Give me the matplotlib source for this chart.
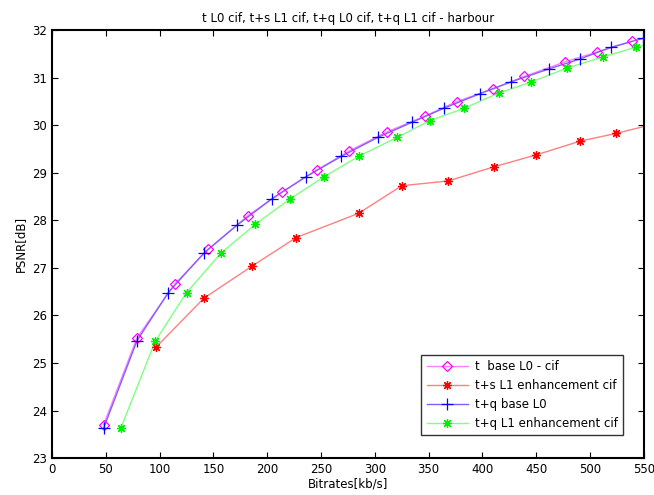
import matplotlib
matplotlib.use("Agg")
import matplotlib.pyplot as plt
from matplotlib.lines import Line2D

title = "t L0 cif, t+s L1 cif, t+q L0 cif, t+q L1 cif - harbour"
xlabel = "Bitrates[kb/s]"
ylabel = "PSNR[dB]"

labels = ["t  base L0 - cif", "t+s L1 enhancement cif", "t+q base L0", "t+q L1 enhancement cif"]

t_base_x = [48, 79, 114, 145, 182, 214, 246, 276, 311, 347, 376, 410, 439, 477, 506, 539]
t_base_y = [23.70, 25.53, 26.66, 27.39, 28.10, 28.60, 29.06, 29.46, 29.86, 30.20, 30.50, 30.77, 31.03, 31.34, 31.54, 31.77]

ts_l1_x = [97, 141, 186, 227, 285, 325, 368, 411, 450, 491, 524, 565]
ts_l1_y = [25.34, 26.36, 27.04, 27.64, 28.15, 28.73, 28.83, 29.13, 29.38, 29.67, 29.83, 30.06]

tq_base_x = [48, 79, 108, 141, 172, 204, 236, 269, 303, 335, 364, 398, 427, 462, 491, 519, 549]
tq_base_y = [23.63, 25.47, 26.48, 27.31, 27.90, 28.45, 28.92, 29.35, 29.75, 30.07, 30.36, 30.67, 30.92, 31.19, 31.40, 31.64, 31.83]

tq_l1_x = [64, 96, 125, 157, 189, 221, 253, 285, 321, 351, 383, 415, 445, 479, 512, 543, 575]
tq_l1_y = [23.63, 25.46, 26.48, 27.31, 27.92, 28.45, 28.92, 29.35, 29.75, 30.10, 30.36, 30.68, 30.91, 31.21, 31.44, 31.65, 31.82]

xticks = list(range(0, 551, 50))
yticks = list(range(23, 33))

fig = plt.figure(figsize=(6.54, 4.95), dpi=100)
ax = fig.add_axes([0.0795, 0.0747, 0.905, 0.864])

ast = (8, 2, 0)
series = [
    (t_base_x, t_base_y, "#ff80ff", "#ff00ff", "D", labels[0], 5.5, "none"),
    (ts_l1_x, ts_l1_y, "#ff8080", "#ff0000", ast, labels[1], 6.5, "#ff0000"),
    (tq_base_x, tq_base_y, "#8060ff", "#0000ff", "+", labels[2], 8, "#0000ff"),
    (tq_l1_x, tq_l1_y, "#80ff80", "#00ee00", ast, labels[3], 6.5, "#00ee00"),
]
handles = []
for x, y, lc, mc, m, lab, ms, fc in series:
    ax.plot(x, y, color=lc, lw=1.0, zorder=2)
    ax.plot(x, y, ls="none", marker=m, markersize=ms,
            markeredgecolor=mc, markerfacecolor=fc, markeredgewidth=0.9, zorder=3)
    handles.append(Line2D([0], [0], color=lc, lw=1.0, marker=m,
                          markersize=ms, markeredgecolor=mc,
                          markerfacecolor=fc, markeredgewidth=0.9))

ax.set_xlim(0, 550)
ax.set_ylim(23, 32)
ax.set_xticks(xticks)
ax.set_yticks(yticks)
ax.tick_params(direction="in", top=True, right=True, labelsize=8.5, length=4, width=0.8)
for s in ax.spines.values():
    s.set_linewidth(1.5)
ax.set_xlabel(xlabel, fontsize=8.5, labelpad=1)
ax.set_ylabel(ylabel, fontsize=8.5, labelpad=4)
ax.set_title(title, fontsize=8.5, pad=6)

leg = ax.legend(handles, labels, loc="lower right", bbox_to_anchor=(0.975, 0.04),
                fontsize=8.5, frameon=True, fancybox=False, edgecolor="black",
                numpoints=1, handlelength=3.5, borderpad=0.45, labelspacing=0.5,
                handletextpad=0.6)
leg.get_frame().set_linewidth(1.0)

fig.savefig("out.png", dpi=100)
